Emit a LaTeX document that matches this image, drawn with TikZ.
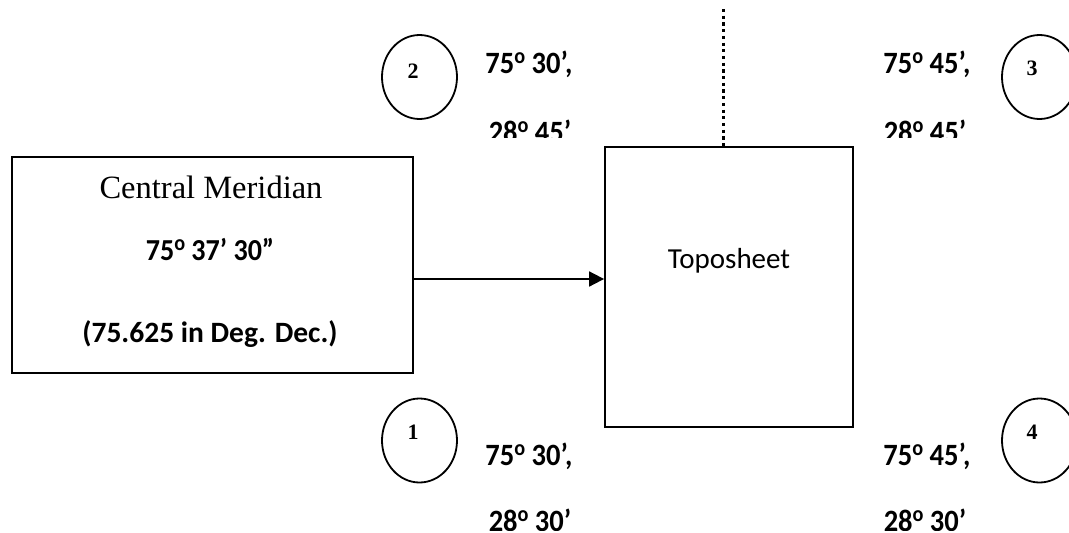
\documentclass[tikz,border=0pt]{standalone}
\usepackage{fontspec}
\usepackage{graphicx}
\setmainfont{Liberation Serif}
\newfontfamily\calib{Carlito}
\usetikzlibrary{arrows.meta,shapes.geometric}
\tikzset{
  box/.style={draw, line width=1.8pt, inner sep=0pt},
  corner/.style={draw, ellipse, line width=1.8pt, minimum width=75pt, minimum height=84pt, inner sep=0pt},
  cnum/.style={font=\fontsize{22}{24}\selectfont\bfseries, anchor=base, inner sep=0pt},
  coord/.style={font=\calib\fontsize{31}{33}\selectfont\bfseries, anchor=base, inner sep=0pt},
  cmtext/.style={anchor=base, inner sep=0pt},
}
% raised "o" used as the degree sign
\newcommand{\dg}{{\fontsize{22}{22}\selectfont\raisebox{10pt}{o}}}
% slightly narrowed bold text
\newcommand{\narrow}[1]{\scalebox{0.92}[1]{#1}}
\begin{document}
\begin{tikzpicture}[x=1pt,y=-1pt]
\useasboundingbox (0,0) rectangle (1069,533);

% boxes
\node[box, minimum width=401pt, minimum height=216pt] (cm) at (212.5,265) {};
\node[box, minimum width=248pt, minimum height=280pt] (topo) at (729,287) {};

% text of the central meridian box
\node[cmtext, font=\fontsize{32.5}{36}\selectfont] (cmtitle) at (211,198) {Central Meridian};
\node[cmtext, font=\calib\fontsize{30.5}{32}\selectfont\bfseries] (cmdms) at (210,260) {\narrow{75\dg\ 37’ 30”}};
\node[cmtext, font=\calib\fontsize{29.5}{32}\selectfont\bfseries] (cmdec) at (210,342) {(75.625 in Deg. Dec.)};

\node[cmtext, font=\calib\fontsize{29}{32}\selectfont] (topolabel) at (729,268) {Toposheet};

% connector
\draw[line width=1.8pt, -{Triangle[length=15pt,width=15pt]}] (cm.east |- 0,279) -- (topo.west |- 0,279);

% dotted line above the toposheet
\coordinate (dtop) at (723.7,9);
\draw[line width=3pt, dash pattern=on 3.2pt off 3.5pt] (dtop) -- (dtop |- topo.north);

% corner ellipses
\node[corner] (c2) at (419.5,77) {};
\node[corner] (c3) at (1039.5,77) {};
\node[corner] (c1) at (419.5,440.5) {};
\node[corner] (c4) at (1039.5,440.5) {};
\node[cnum] (n2) at (413,78) {2};
\node[cnum] (n3) at (1032,75.5) {3};
\node[cnum] (n1) at (413,439.5) {1};
\node[cnum] (n4) at (1032,439.5) {4};

% corner coordinates
\node[coord] (lon2) at (529,73) {\narrow{75\dg\ 30’,}};
\node[coord] (lon3) at (927,73) {\narrow{75\dg\ 45’,}};
\node[coord] (lon1) at (529,465) {\narrow{75\dg\ 30’,}};
\node[coord] (lon4) at (927,465) {\narrow{75\dg\ 45’,}};
\begin{scope}
  \clip (0,100) rectangle (1069,137);
  \node[coord] (lat2) at (530,142.5) {\narrow{28\dg\ 45’}};
  \node[coord] (lat3) at (925,142.5) {\narrow{28\dg\ 45’}};
\end{scope}
\begin{scope}
  \clip (0,490) rectangle (1069,530.5);
  \node[coord] (lat1) at (530,531.5) {\narrow{28\dg\ 30’}};
  \node[coord] (lat4) at (925,531.5) {\narrow{28\dg\ 30’}};
\end{scope}
\end{tikzpicture}
\end{document}
